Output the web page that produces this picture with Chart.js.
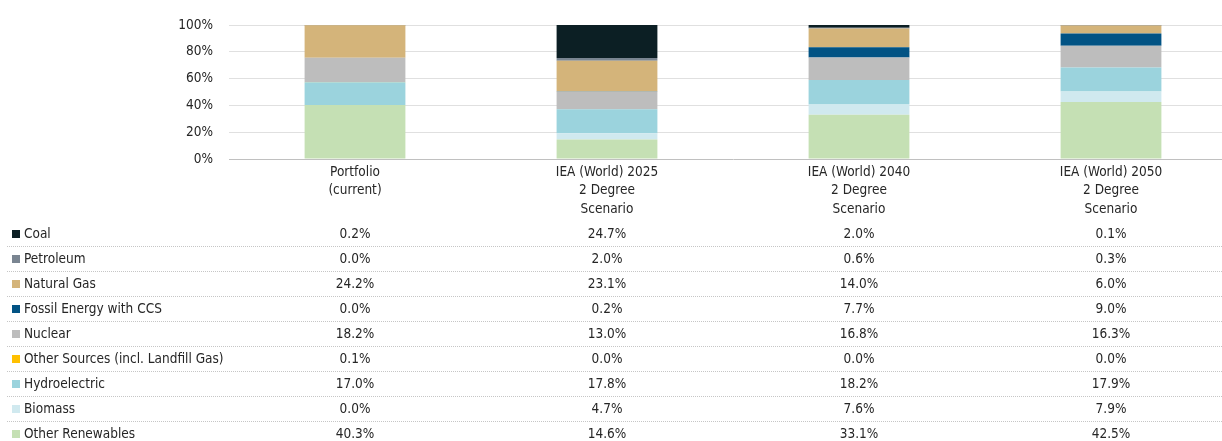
<!DOCTYPE html>
<html>
<head>
<meta charset="utf-8">
<script src="https://cdn.jsdelivr.net/npm/chart.js@4.4.1/dist/chart.umd.min.js"></script>
<style>
  html, body { margin: 0; padding: 0; background: #fff; overflow: hidden; }
  #wrap { width: 1237px; height: 441px; }
</style>
</head>
<body>
<div id="wrap"><canvas id="mixChart" width="1237" height="441"></canvas></div>
<script>
// ── Data ────────────────────────────────────────────────────────
const categories = [
  ['Portfolio', '(current)'],
  ['IEA (World) 2025', '2 Degree', 'Scenario'],
  ['IEA (World) 2040', '2 Degree', 'Scenario'],
  ['IEA (World) 2050', '2 Degree', 'Scenario']
];
const yTicks = [0, 20, 40, 60, 80, 100];

// table order (top to bottom)
const sourceNames = [
  'Coal', 'Petroleum', 'Natural Gas', 'Fossil Energy with CCS', 'Nuclear',
  'Other Sources (incl. Landfill Gas)', 'Hydroelectric', 'Biomass', 'Other Renewables'
];
const coal          = [0.2, 24.7, 2.0, 0.1];
const petroleum     = [0.0, 2.0, 0.6, 0.3];
const naturalGas    = [24.2, 23.1, 14.0, 6.0];
const fossilCCS     = [0.0, 0.2, 7.7, 9.0];
const nuclear       = [18.2, 13.0, 16.8, 16.3];
const otherSources  = [0.1, 0.0, 0.0, 0.0];
const hydroelectric = [17.0, 17.8, 18.2, 17.9];
const biomass       = [0.0, 4.7, 7.6, 7.9];
const otherRenew    = [40.3, 14.6, 33.1, 42.5];

const sourceValues = [coal, petroleum, naturalGas, fossilCCS, nuclear,
                      otherSources, hydroelectric, biomass, otherRenew];
const sourceColors = ['#0c1f24', '#7a8591', '#d4b47a', '#025384', '#bdbdbd',
                      '#ffc000', '#9bd3dd', '#d0e9ef', '#c5e0b4'];

const FONT = '"Liberation Sans Narrow", "Arial Narrow", "DejaVu Sans Condensed", sans-serif';
const FSIZE = 13.5;
const TEXT = '#262626';

// ── Table drawn under the plot ──────────────────────────────────
const tablePlugin = {
  id: 'dataTable',
  afterDraw(chart) {
    const ctx = chart.ctx;
    const x = chart.scales.x;
    const top = 234, step = 25;
    ctx.save();
    ctx.font = FSIZE + 'px ' + FONT;
    ctx.textBaseline = 'middle';

    // separators
    ctx.strokeStyle = '#c6c6c6';
    ctx.lineWidth = 1;
    ctx.setLineDash([1, 1]);
    for (let i = 0; i < sourceNames.length - 1; i++) {
      const y = top + step * i + 12.5;
      ctx.beginPath();
      ctx.moveTo(7, y);
      ctx.lineTo(chart.width, y);
      ctx.stroke();
    }
    ctx.setLineDash([]);

    sourceNames.forEach((name, i) => {
      const y = top + step * i;
      ctx.fillStyle = sourceColors[i];
      ctx.fillRect(12, y - 4, 8, 8);
      ctx.fillStyle = TEXT;
      ctx.textAlign = 'left';
      ctx.fillText(name, 24, y);
      ctx.textAlign = 'center';
      sourceValues[i].forEach((v, j) => {
        ctx.fillText(v.toFixed(1) + '%', x.getPixelForValue(j), y);
      });
    });
    ctx.restore();
  }
};

// stack from bottom up: reverse of table order
const datasets = sourceNames.map((name, i) => ({
  label: name,
  data: sourceValues[i],
  backgroundColor: sourceColors[i],
  borderWidth: 0,
  barPercentage: 0.4,
  categoryPercentage: 1.0
})).reverse();

new Chart(document.getElementById('mixChart'), {
  type: 'bar',
  data: { labels: categories, datasets: datasets },
  options: {
    responsive: false,
    animation: false,
    layout: { padding: { top: 25, left: 0, right: 0, bottom: 0 } },
    plugins: {
      legend: { display: false },
      tooltip: { enabled: false }
    },
    scales: {
      x: {
        stacked: true,
        grid: { display: false, drawTicks: false },
        border: { display: true, color: '#c0c0c0', dash: [1, 1] },
        ticks: {
          color: TEXT,
          font: { family: FONT, size: FSIZE, lineHeight: 1.37 },
          padding: 4, maxRotation: 0, autoSkip: false
        },
        afterFit: scale => { scale.height = 282; }
      },
      y: {
        stacked: true,
        min: 0,
        max: 100,
        afterBuildTicks: scale => { scale.ticks = yTicks.map(v => ({ value: v })); },
        grid: {
          drawTicks: false,
          color: ctx => ctx.tick && ctx.tick.value === 0 ? 'rgba(0,0,0,0)' : '#e0e0e0'
        },
        border: { display: false },
        ticks: {
          color: TEXT,
          font: { family: FONT, size: FSIZE },
          padding: 16,
          callback: v => v + '%'
        },
        afterFit: scale => { scale.width = 229; }
      }
    }
  },
  plugins: [tablePlugin]
});
</script>
</body>
</html>
